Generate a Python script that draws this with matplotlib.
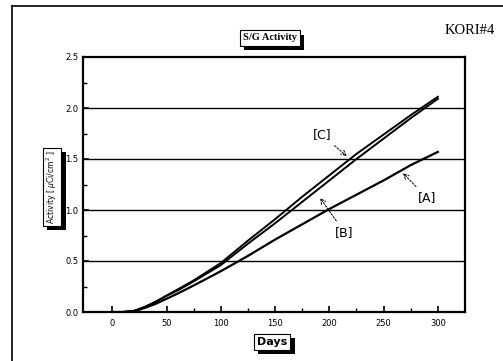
import matplotlib.pyplot as plt
import matplotlib.patheffects as pe
import numpy as np

# S/G activity build-up
days = [0, 10, 20, 30, 40, 50, 60, 75, 100, 125, 150, 175, 200, 225, 250, 275, 300]
act_a = [0, 0.0, 0.01, 0.04, 0.08, 0.13, 0.18, 0.26, 0.40, 0.55, 0.71, 0.86, 1.01, 1.15, 1.29, 1.44, 1.57]
act_b = [0, 0.0, 0.01, 0.05, 0.10, 0.16, 0.21, 0.30, 0.46, 0.67, 0.87, 1.08, 1.29, 1.50, 1.70, 1.90, 2.09]
act_c = [0, 0.0, 0.01, 0.05, 0.10, 0.16, 0.22, 0.31, 0.48, 0.70, 0.91, 1.13, 1.34, 1.55, 1.74, 1.93, 2.11]

x_ticks = [0, 50, 100, 150, 200, 250, 300]
y_ticks = [0.0, 0.5, 1.0, 1.5, 2.0, 2.5]

fig = plt.figure(figsize=(5.03, 3.61), dpi=100)
ax = fig.add_axes([83 / 503, 1 - 312 / 361, (465 - 83) / 503, (312 - 57) / 361])

# outer frame of the scanned page
fig.add_artist(plt.Line2D([12 / 503, 12 / 503], [0, 1 - 6 / 361], transform=fig.transFigure, color='black', lw=1.2))
fig.add_artist(plt.Line2D([12 / 503, 1], [1 - 6 / 361, 1 - 6 / 361], transform=fig.transFigure, color='black', lw=1.2))

# horizontal grid lines
for g in y_ticks[1:-1]:
    ax.axhline(g, color='black', lw=1.0, zorder=1)

ax.plot(days, act_a, color='black', lw=1.6, zorder=3)
ax.plot(days, act_b, color='black', lw=1.4, zorder=3)
ax.plot(days, act_c, color='black', lw=1.4, zorder=3)

ax.set_xlim(-27, 325)
ax.set_ylim(0, 2.5)
ax.set_xticks(x_ticks)
ax.set_xticks(np.arange(25, 325, 50), minor=True)
ax.set_yticks(y_ticks)
ax.set_yticks(np.arange(0.25, 2.5, 0.5), minor=True)
ax.set_yticklabels(['%.1f' % v for v in y_ticks])
ax.tick_params(which='both', direction='in', labelsize=6, color='black')
ax.tick_params(which='major', length=4, width=1.2)
ax.tick_params(which='minor', length=3, width=1)
ax.tick_params(axis='x', pad=5)
for s in ax.spines.values():
    s.set_linewidth(1.6)

# curve labels with arrows
arrow = dict(arrowstyle='->', color='black', lw=0.7, linestyle=(0, (2, 1.5)))
ax.annotate('[C]', xy=(218, 1.51), xytext=(193, 1.74), fontsize=9, ha='center', va='center',
            arrowprops=arrow)
ax.annotate('[A]', xy=(266, 1.38), xytext=(290, 1.12), fontsize=9, ha='center', va='center',
            arrowprops=arrow)
ax.annotate('[B]', xy=(190, 1.14), xytext=(214, 0.78), fontsize=9, ha='center', va='center',
            arrowprops=arrow)


def shadow_box(x, y, s, **kw):
    # text box with a dark drop shadow
    t = fig.text(x, y, s, ha='center', va='center', color='black',
                 bbox=dict(boxstyle='square,pad=0.3', fc='white', ec='black', lw=0.8), **kw)
    t.get_bbox_patch().set_path_effects([
        pe.SimplePatchShadow(offset=(3, -3), shadow_rgbFace='black', alpha=1.0), pe.Normal()])
    return t


shadow_box(270 / 503, 1 - 38 / 361, 'S/G Activity', fontsize=7.5, fontweight='bold', family='Liberation Serif')
shadow_box(272 / 503, 1 - 342 / 361, 'Days', fontsize=8, fontweight='bold')
shadow_box(52 / 503, 1 - 187 / 361, r'Activity [ $\mu$Ci/cm$^2$ ]', fontsize=5.5, rotation=90)

fig.text(470 / 503, 1 - 31 / 361, 'KORI#4', ha='center', va='center', fontsize=10.5,
         family='Liberation Serif')

fig.savefig('out.png', dpi=100)
